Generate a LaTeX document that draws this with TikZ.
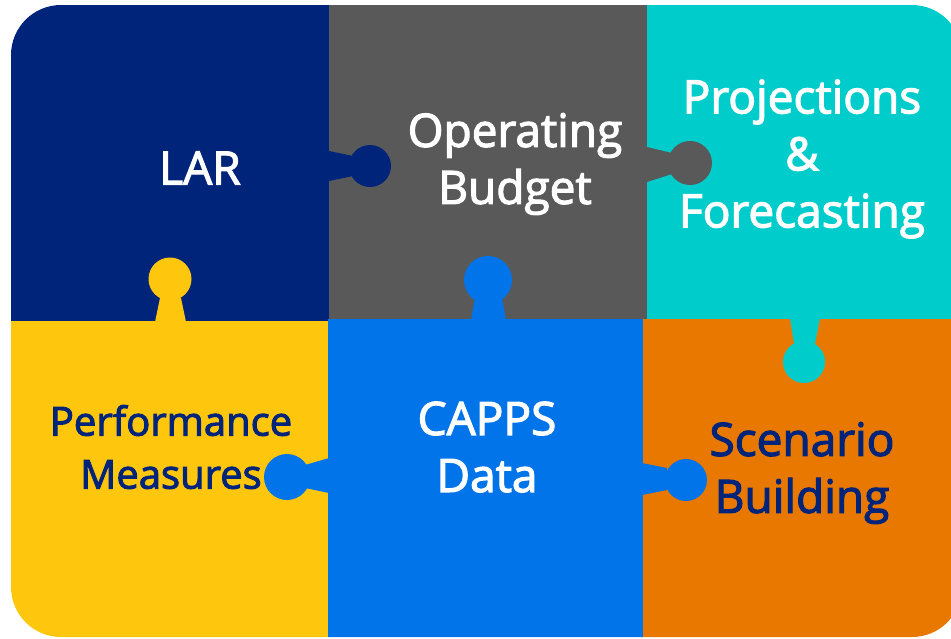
\documentclass[tikz,border=0pt]{standalone}
\usepackage{fontspec}
\setmainfont{Open Sans}
\newfontfamily\piecefont{Open Sans}[FakeBold=2.5]
\definecolor{larnavy}{RGB}{0,36,122}
\definecolor{budgetgray}{RGB}{89,89,89}
\definecolor{projcyan}{RGB}{0,204,204}
\definecolor{perfyellow}{RGB}{255,198,14}
\definecolor{cappsblue}{RGB}{0,116,232}
\definecolor{scenorange}{RGB}{232,120,0}

\begin{document}
\begin{tikzpicture}[%
        x=1pt, y=-1pt,
        piece label/.style = {%
          align=center,
          font=\piecefont\fontsize{46}{57}\selectfont,
          inner sep=0pt,
        },
      ]
      \useasboundingbox (0,0) rectangle (951,638);
      \begin{scope}
        \clip[rounded corners=50pt] (11,5) rectangle (962,637);
        \fill[larnavy]    (0,0)     rectangle (329,321);
        \fill[budgetgray] (329,0)   rectangle (647,320);
        \fill[projcyan]   (647,0)   rectangle (960,319);
        \fill[perfyellow] (0,321)   rectangle (329,640);
        \fill[cappsblue]  (328,319) rectangle (643,640);
        \fill[scenorange] (643,319) rectangle (960,640);
        % tabs
        \fill[larnavy] (329,151) -- (353,156) -- (353,176) -- (329,181) -- cycle;
        \fill[larnavy] (370,166) circle (21);
        \fill[budgetgray] (647,147) -- (672,153) -- (672,174) -- (647,182) -- cycle;
        \fill[budgetgray] (690,163) circle (22);
        \fill[perfyellow] (155,322) -- (160,298) -- (181,298) -- (186,322) -- cycle;
        \fill[perfyellow] (170,279) circle (21.5);
        \fill[cappsblue] (471,320) -- (475,298) -- (502,298) -- (506,320) -- cycle;
        \fill[cappsblue] (488,280) circle (24);
        \fill[projcyan] (790,318) -- (820,318) -- (815,344) -- (794,344) -- cycle;
        \fill[projcyan] (804,362) circle (21);
        \fill[cappsblue] (329,458) -- (305,465) -- (305,488) -- (329,493) -- cycle;
        \fill[cappsblue] (287,477) circle (23);
        \fill[cappsblue] (642,463) -- (667,468) -- (667,490) -- (642,495) -- cycle;
        \fill[cappsblue] (686,480) circle (21);
      \end{scope}
      \node[piece label, text=white]   (lar)     at (200,168) {LAR};
      \node[piece label, text=white]   (budget)  at (515,164) {Operating\\Budget};
      \node[piece label, text=white]   (proj)    at (802,159) {Projections\\\&\\Forecasting};
      \node[piece label, text=larnavy, font=\piecefont\fontsize{40}{53}\selectfont]
        (perf) at (171,447) {Performance\\Measures};
      \node[piece label, text=white]   (capps)   at (487,447) {CAPPS\\Data};
      \node[piece label, text=larnavy] (scen)    at (802,473) {Scenario\\Building};
    \end{tikzpicture}
\end{document}
